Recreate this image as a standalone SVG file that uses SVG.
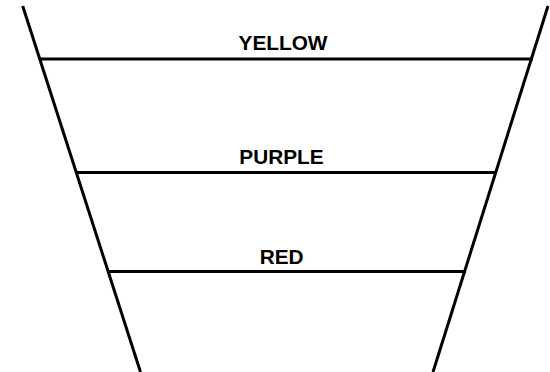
<svg xmlns="http://www.w3.org/2000/svg" width="550" height="372" viewBox="0 0 550 372">
<style>
.l{stroke:#000;stroke-width:3;fill:none}
.t{font-family:"Liberation Sans",Arial,sans-serif;font-weight:bold;font-size:20.8px;text-anchor:middle;fill:#000}
</style>
<rect width="550" height="372" fill="#fff"/>
<g id="connectors">
<line class="l" x1="22.7" y1="6" x2="140.5" y2="372"/>
<line class="l" x1="548" y1="6" x2="433" y2="372"/>
</g>
<g id="yellow">
<line class="l" x1="40" y1="59" x2="533" y2="59"/>
<text class="t" x="283" y="49.5">YELLOW</text>
</g>
<g id="purple">
<line class="l" x1="76" y1="172.5" x2="497" y2="172.5"/>
<text class="t" x="281.5" y="163.5">PURPLE</text>
</g>
<g id="red">
<line class="l" x1="108" y1="271.5" x2="466" y2="271.5"/>
<text class="t" x="281.7" y="263.5">RED</text>
</g>
</svg>
